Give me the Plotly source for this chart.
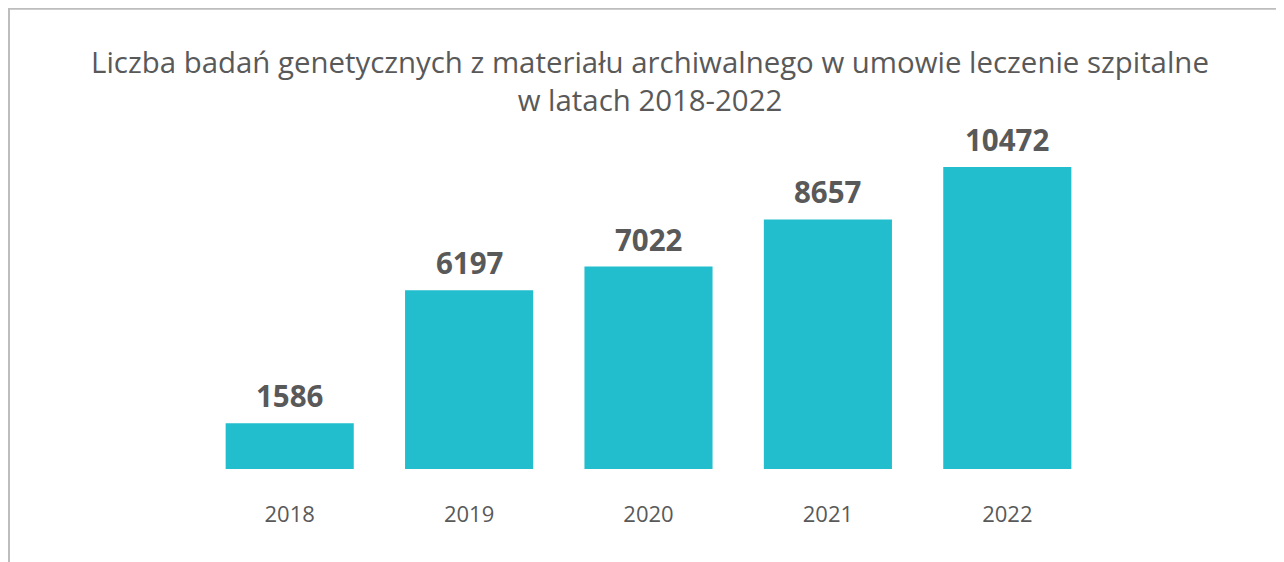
import plotly.graph_objects as go

years = ["2018", "2019", "2020", "2021", "2022"]
values = [1586, 6197, 7022, 8657, 10472]

W, H = 1284, 562
ml, mr, mt, mb = 192, 195, 115, 101
pw, ph = W - ml - mr, H - mt - mb

def px_x(p):
    return (p - ml) / pw

def px_y(p):
    return (H - mb - p) / ph

fig = go.Figure(go.Bar(
    x=years, y=values,
    marker=dict(color="#22BECE", line=dict(width=0)),
    cliponaxis=False,
    hoverinfo="x+y",
))

# value labels above bars (category index positions on the category axis)
for i, v in enumerate(values):
    fig.add_annotation(
        x=i, y=v, xref="x", yref="y", text=f"<b>{v}</b>", showarrow=False,
        yanchor="bottom", yshift=5,
        font=dict(family="Open Sans", size=29.5, color="#595959"),
    )

fig.update_layout(
    width=W, height=H,
    margin=dict(l=ml, r=mr, t=mt, b=mb),
    paper_bgcolor="white", plot_bgcolor="white",
    bargap=0.286,
    showlegend=False,
    font=dict(family="Open Sans", color="#595959"),
    title=dict(
        text="Liczba badań genetycznych z materiału archiwalnego w umowie leczenie szpitalne<br>w latach 2018-2022",
        x=0.5, xanchor="center", xref="container",
        y=1 - 65 / H, yanchor="top", yref="container",
        font=dict(family="Open Sans", size=29.4, color="#595959"),
    ),
    xaxis=dict(type="category", categoryarray=years, range=[-0.5, len(years) - 0.5],
               showline=False, showgrid=False, zeroline=False, ticks="",
               tickfont=dict(family="Open Sans", size=22, color="#595959"), ticklabelstandoff=30),
    yaxis=dict(range=[0, 12000], visible=False, showgrid=False, zeroline=False),
    shapes=[
        dict(type="line", xref="paper", yref="paper", x0=px_x(0), x1=px_x(W + 5), y0=px_y(0.8), y1=px_y(0.8),
             line=dict(color="#BDBDBD", width=2)),
        dict(type="line", xref="paper", yref="paper", x0=px_x(1), x1=px_x(1), y0=px_y(0), y1=px_y(H + 5),
             line=dict(color="#BDBDBD", width=2)),
    ],
)

fig.write_html("out.html")
